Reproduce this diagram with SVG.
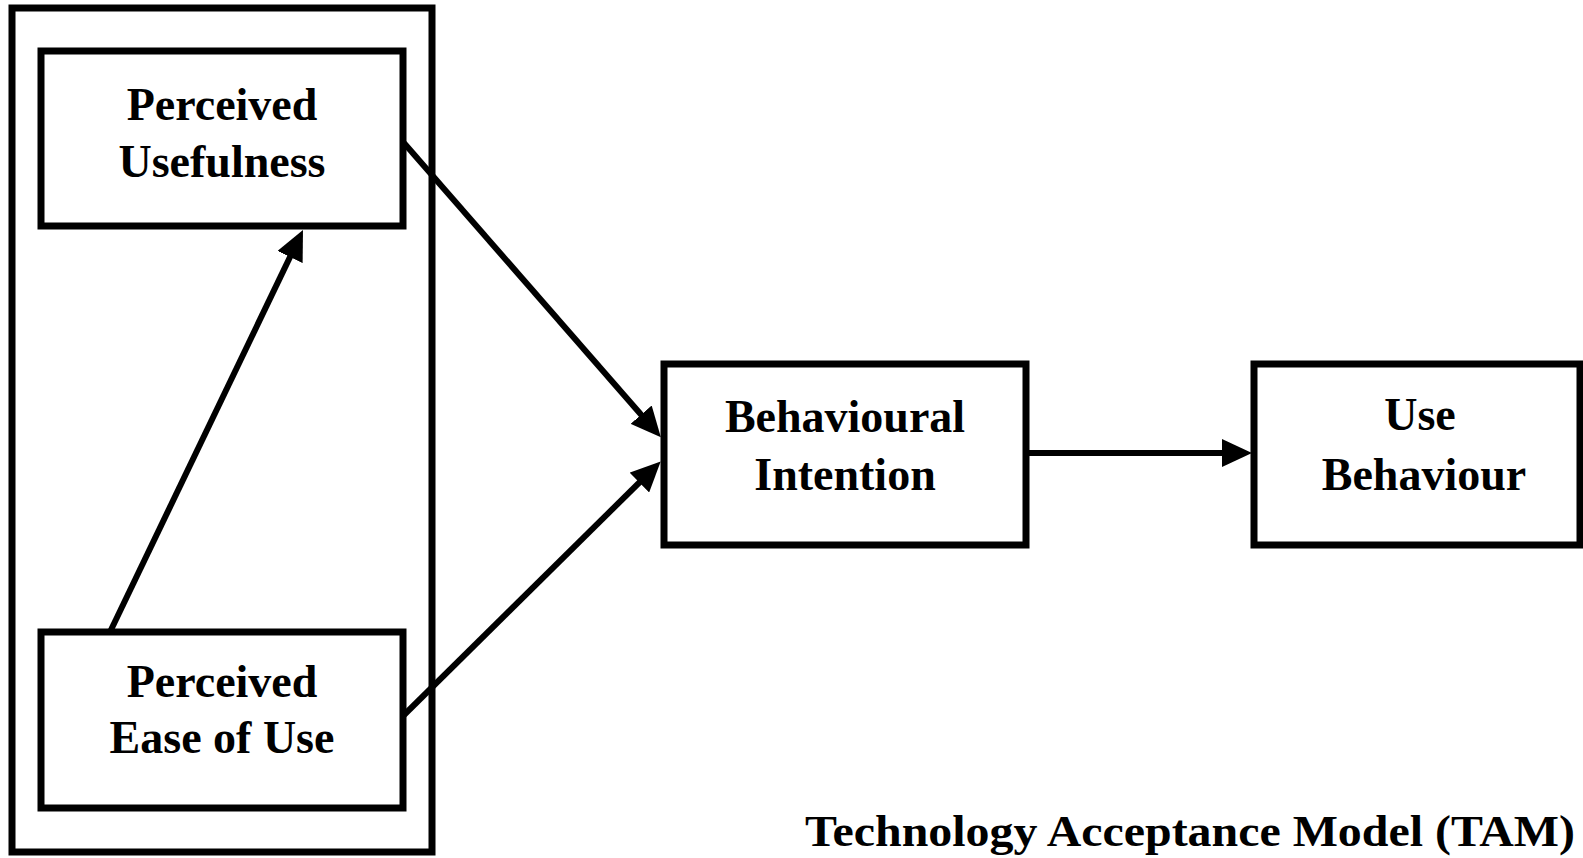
<svg xmlns="http://www.w3.org/2000/svg" width="1583" height="858" viewBox="0 0 1583 858">
  <style>
    .box { fill: #ffffff; stroke: #000000; stroke-width: 7; }
    .frame { fill: none; stroke: #000000; stroke-width: 7; }
    .label { font-family: "Liberation Serif", "Times New Roman", serif; font-weight: bold; font-size: 46px; fill: #000000; text-anchor: middle; }
    .title { font-family: "Liberation Serif", "Times New Roman", serif; font-weight: bold; font-size: 45px; fill: #000000; }
    .link { stroke: #000000; stroke-width: 6; fill: none; marker-end: url(#head); }
  </style>
  <defs>
    <marker id="head" viewBox="0 0 30 28" markerUnits="userSpaceOnUse" markerWidth="30" markerHeight="28" refX="15" refY="14" orient="auto">
      <path d="M0,0 L30,14 L0,28 Z" fill="#000000"/>
    </marker>
  </defs>

  <rect width="1583" height="858" fill="#ffffff"/>

  <!-- frame grouping the two perception constructs -->
  <rect class="frame" x="12" y="8" width="420" height="844"/>

  <g id="perceived-usefulness">
    <rect class="box" x="41" y="51" width="362" height="175"/>
    <text class="label" x="222" y="120">Perceived</text>
    <text class="label" x="222" y="177">Usefulness</text>
  </g>

  <g id="perceived-ease-of-use">
    <rect class="box" x="41" y="632" width="362" height="176"/>
    <text class="label" x="222" y="697">Perceived</text>
    <text class="label" x="222" y="753">Ease of Use</text>
  </g>

  <g id="behavioural-intention">
    <rect class="box" x="664" y="364" width="362" height="181"/>
    <text class="label" x="845" y="432">Behavioural</text>
    <text class="label" x="845" y="490">Intention</text>
  </g>

  <g id="use-behaviour">
    <rect class="box" x="1254" y="364" width="326" height="181"/>
    <text class="label" x="1420" y="430">Use</text>
    <text class="label" x="1424" y="490">Behaviour</text>
  </g>

  <g id="connectors">
    <line class="link" x1="404" y1="143" x2="651" y2="426"/>
    <line class="link" x1="404" y1="715" x2="650" y2="472"/>
    <line class="link" x1="110" y1="632" x2="296.5" y2="243.5"/>
    <line class="link" x1="1026" y1="453" x2="1237" y2="453"/>
  </g>

  <text class="title" x="805" y="846" textLength="770" lengthAdjust="spacingAndGlyphs">Technology Acceptance Model (TAM)</text>
</svg>
